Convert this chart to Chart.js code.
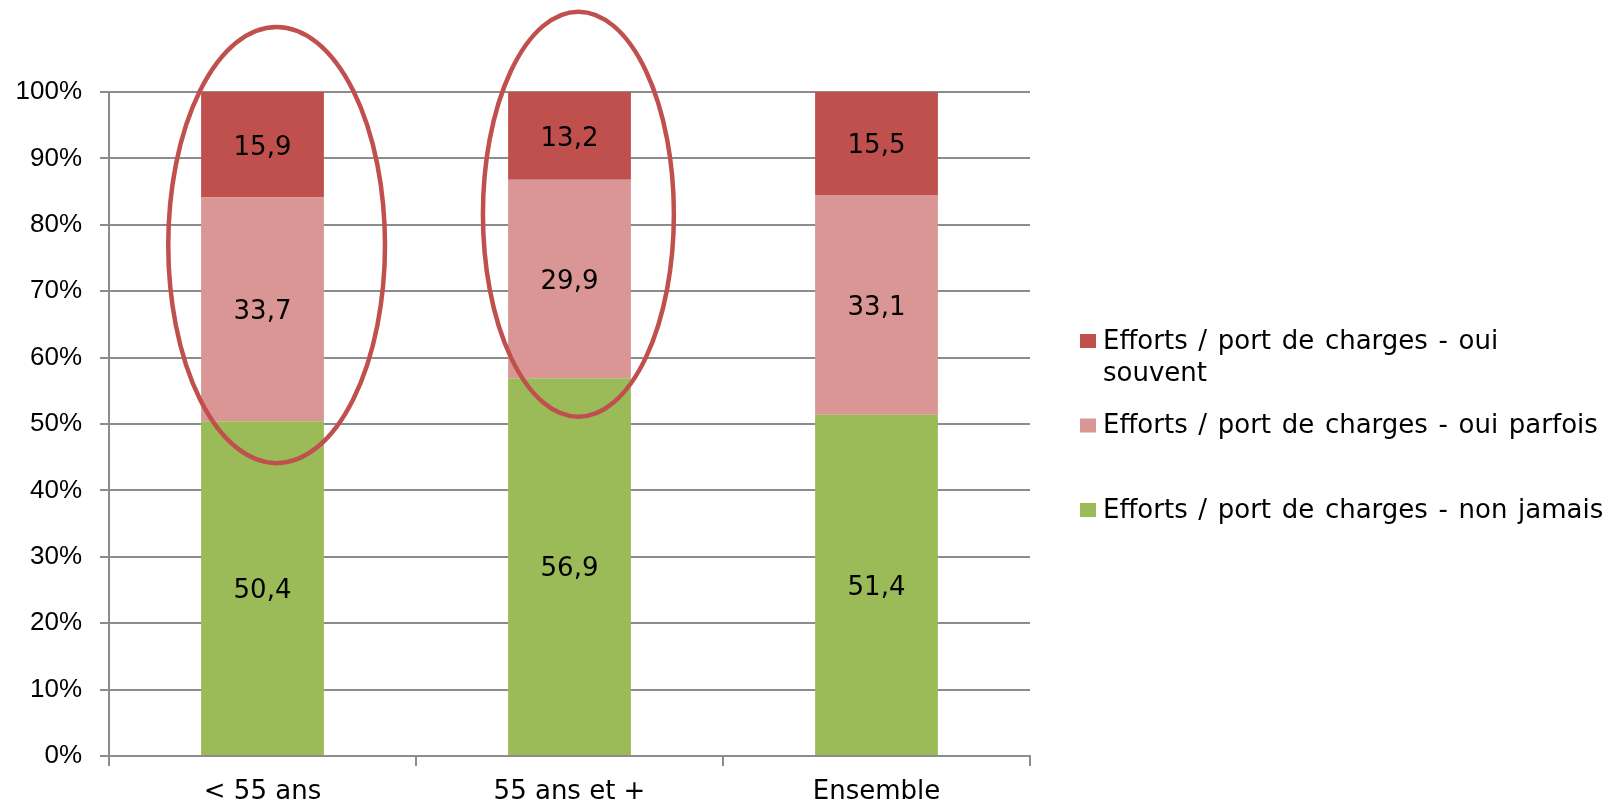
<!DOCTYPE html>
<html lang="fr">
<head>
<meta charset="utf-8">
<title>Efforts / port de charges selon l'âge</title>
<script src="https://cdn.jsdelivr.net/npm/chart.js@4/dist/chart.umd.min.js"></script>
<style>
  html, body { margin: 0; padding: 0; background: #ffffff; }
  #wrap { position: relative; width: 1623px; height: 805px; }
</style>
</head>
<body>
<div id="wrap"><canvas id="chart" width="1623" height="805"></canvas></div>
<script>
// Age groups on the x axis
const categories = ['< 55 ans', '55 ans et +', 'Ensemble'];

// Shares (%) for each answer, stacked bottom to top
const nonJamais  = [50.4, 56.9, 51.4];
const ouiParfois = [33.7, 29.9, 33.1];
const ouiSouvent = [15.9, 13.2, 15.5];

const seriesLabels = [
  'Efforts / port de charges - non jamais',
  'Efforts / port de charges - oui parfois',
  'Efforts / port de charges - oui souvent'
];
const seriesColors = ['#9BBB59', '#D99694', '#C0504D'];

// Y axis tick values (%)
const yTicks = [0, 10, 20, 30, 40, 50, 60, 70, 80, 90, 100];

// Highlight rings around the first two bars: category index, horizontal shift
// and half width in category units, vertical extent in % units
const ringCategory = [0, 1];
const ringShift    = [0.046, 0.029];
const ringHalfW    = [0.353, 0.311];
const ringTop      = [109.8, 112.1];
const ringBottom   = [44.1, 51.1];

const GRID = '#8c8c8c';
const LABEL_FONT = '"DejaVu Sans", Verdana, sans-serif';

const valueLabels = {
  id: 'valueLabels',
  afterDatasetsDraw(chart) {
    const ctx = chart.ctx;
    ctx.save();
    ctx.font = '26px ' + LABEL_FONT;
    ctx.fillStyle = '#000000';
    ctx.textAlign = 'center';
    ctx.textBaseline = 'middle';
    chart.data.datasets.forEach((ds, di) => {
      const meta = chart.getDatasetMeta(di);
      meta.data.forEach((bar, i) => {
        const v = ds.data[i];
        const yMid = (bar.y + bar.base) / 2;
        ctx.fillText(v.toFixed(1).replace('.', ','), bar.x, yMid + 3);
      });
    });
    ctx.restore();
  }
};

const rings = {
  id: 'rings',
  afterDraw(chart) {
    const ctx = chart.ctx;
    const xs = chart.scales.x, ys = chart.scales.y;
    const unit = xs.getPixelForValue(1) - xs.getPixelForValue(0);
    ctx.save();
    ctx.strokeStyle = '#C0504D';
    ctx.lineWidth = 4.5;
    ringCategory.forEach((c, k) => {
      const cx = xs.getPixelForValue(c) + ringShift[k] * unit;
      const top = ys.getPixelForValue(ringTop[k]);
      const bottom = ys.getPixelForValue(ringBottom[k]);
      ctx.beginPath();
      ctx.ellipse(cx, (top + bottom) / 2, ringHalfW[k] * unit, (bottom - top) / 2, 0, 0, Math.PI * 2);
      ctx.stroke();
    });
    ctx.restore();
  }
};

// Legend on the right, top entry first, long labels wrapped word by word
const sideLegend = {
  id: 'sideLegend',
  afterDraw(chart) {
    const ctx = chart.ctx;
    const left = chart.chartArea.right + 50;
    const textX = left + 23;
    const maxW = 508;
    const firstY = 342, pitch = 84.5, lineH = 32;
    ctx.save();
    ctx.font = '26px ' + LABEL_FONT;
    ctx.textBaseline = 'middle';
    ctx.textAlign = 'left';
    const spaceW = ctx.measureText(' ').width + 2.4;
    const order = chart.data.datasets.map((d, i) => i).reverse();
    order.forEach((di, row) => {
      const ds = chart.data.datasets[di];
      const y = firstY + row * pitch;
      ctx.fillStyle = ds.backgroundColor;
      ctx.fillRect(left, y - 8, 16, 14);
      ctx.fillStyle = '#000000';
      let x = 0, ly = y;
      ds.label.split(' ').forEach(w => {
        const ww = ctx.measureText(w).width;
        if (x > 0 && x + ww > maxW) {
          x = 0;
          ly += lineH;
        }
        ctx.fillText(w, textX + x, ly);
        x += ww + spaceW;
      });
    });
    ctx.restore();
  }
};

new Chart(document.getElementById('chart'), {
  type: 'bar',
  data: {
    labels: categories,
    datasets: [
      { label: seriesLabels[0], data: nonJamais,  backgroundColor: seriesColors[0] },
      { label: seriesLabels[1], data: ouiParfois, backgroundColor: seriesColors[1] },
      { label: seriesLabels[2], data: ouiSouvent, backgroundColor: seriesColors[2] }
    ]
  },
  options: {
    responsive: false,
    animation: false,
    devicePixelRatio: 1,
    layout: { padding: { top: 92, right: 593, bottom: 0, left: 0 } },
    datasets: { bar: { barPercentage: 0.4, categoryPercentage: 1, borderWidth: 0 } },
    plugins: {
      legend: { display: false },
      tooltip: { enabled: false }
    },
    scales: {
      x: {
        stacked: true,
        offset: true,
        grid: {
          offset: true,
          drawOnChartArea: false,
          drawTicks: true,
          tickLength: 10,
          color: GRID,
          lineWidth: 2
        },
        border: { color: GRID, width: 2 },
        ticks: {
          color: '#000000',
          font: { family: LABEL_FONT, size: 26 },
          padding: 11,
          maxRotation: 0
        },
        afterFit(s) { s.height = 49; }
      },
      y: {
        stacked: true,
        min: 0,
        max: 100,
        afterBuildTicks(s) { s.ticks = yTicks.map(v => ({ value: v })); },
        grid: {
          color: GRID,
          lineWidth: 2,
          drawTicks: true,
          tickLength: 9
        },
        border: { color: GRID, width: 2 },
        ticks: {
          color: '#000000',
          font: { family: '"Liberation Sans", Arial, sans-serif', size: 26 },
          padding: 18,
          callback: v => v + '%'
        },
        afterFit(s) { s.width = 109; }
      }
    }
  },
  plugins: [valueLabels, rings, sideLegend]
});
</script>
</body>
</html>
